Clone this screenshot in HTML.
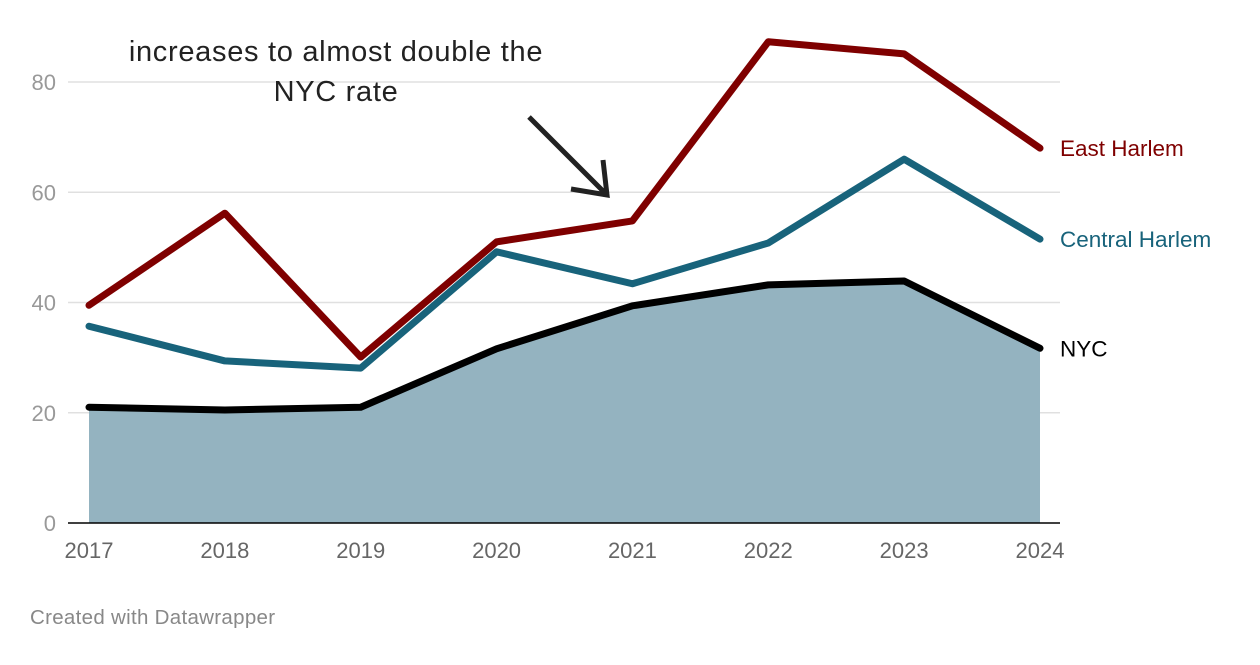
<!DOCTYPE html>
<html><head><meta charset="utf-8"><style>
body{margin:0;background:#fff;width:1260px;height:660px;overflow:hidden;font-family:"Liberation Sans",sans-serif}
</style></head><body>
<svg id="c" width="1260" height="660" xmlns="http://www.w3.org/2000/svg"></svg>
<script>
const years=["2017","2018","2019","2020","2021","2022","2023","2024"];
const eastHarlem=[39.5,56.2,30.1,51,54.8,87.3,85.1,68];
const centralHarlem=[35.7,29.4,28.1,49.2,43.4,50.8,66,51.5];
const nyc=[21,20.5,21,31.6,39.4,43.2,43.9,31.7];
const yTicks=[0,20,40,60,80];
const svg=document.getElementById('c');const NS="http://www.w3.org/2000/svg";
const x=i=>89+i*(1040-89)/7;const y=v=>523-v*(523-82)/80;
function mk(t,a,txt){const e=document.createElementNS(NS,t);for(const k in a)e.setAttribute(k,a[k]);if(txt!=null)e.textContent=txt;svg.appendChild(e);return e;}
yTicks.forEach(v=>{
 if(v>0){const g=mk('line',{x1:68,x2:1060,y1:y(v),y2:y(v),stroke:'#e0e0e0','stroke-width':1.5});
 
 }
 const t=mk('text',{x:56,y:y(v)+8,'text-anchor':'end','font-size':22,fill:'#999'},String(v));
 
 
});
let d='M'+x(0)+','+y(0);nyc.forEach((v,i)=>d+=' L'+x(i)+','+y(v));d+=' L'+x(7)+','+y(0)+'Z';
const area=mk('path',{d:d,fill:'#94b3c0'});


const base=mk('line',{x1:68,x2:1060,y1:523,y2:523,stroke:'#000','stroke-width':1.5});


years.forEach((yr,i)=>{const t=mk('text',{x:x(i),y:558,'text-anchor':'middle','font-size':22,fill:'#666'},yr);
 
 });
function line(arr,col,name,label){
 const p=mk('polyline',{points:arr.map((v,i)=>x(i)+','+y(v)).join(' '),fill:'none',stroke:col,'stroke-width':7,'stroke-linejoin':'round','stroke-linecap':'round'});
 
 
 const t=mk('text',{x:1060,y:y(arr[7])+8,'font-size':22.5,fill:col},label);
 
 
}
line(eastHarlem,'#7f0000','east-harlem','East Harlem');
line(centralHarlem,'#18637b','central-harlem','Central Harlem');
line(nyc,'#000','nyc','NYC');
const a1=mk('text',{x:336,y:61,'text-anchor':'middle','font-size':29,'letter-spacing':'0.7',fill:'#222'},'increases to almost double the');


const a2=mk('text',{x:336,y:101,'text-anchor':'middle','font-size':29,'letter-spacing':'0.7',fill:'#222'},'NYC rate');


const ar=mk('path',{d:'M529,117 L607,195 M571,189 L607,195 L603,160',fill:'none',stroke:'#222','stroke-width':5});


const cr=mk('text',{x:30,y:624,'font-size':20.5,'letter-spacing':'0.3',fill:'#888'},'Created with Datawrapper');


</script>
</body></html>
